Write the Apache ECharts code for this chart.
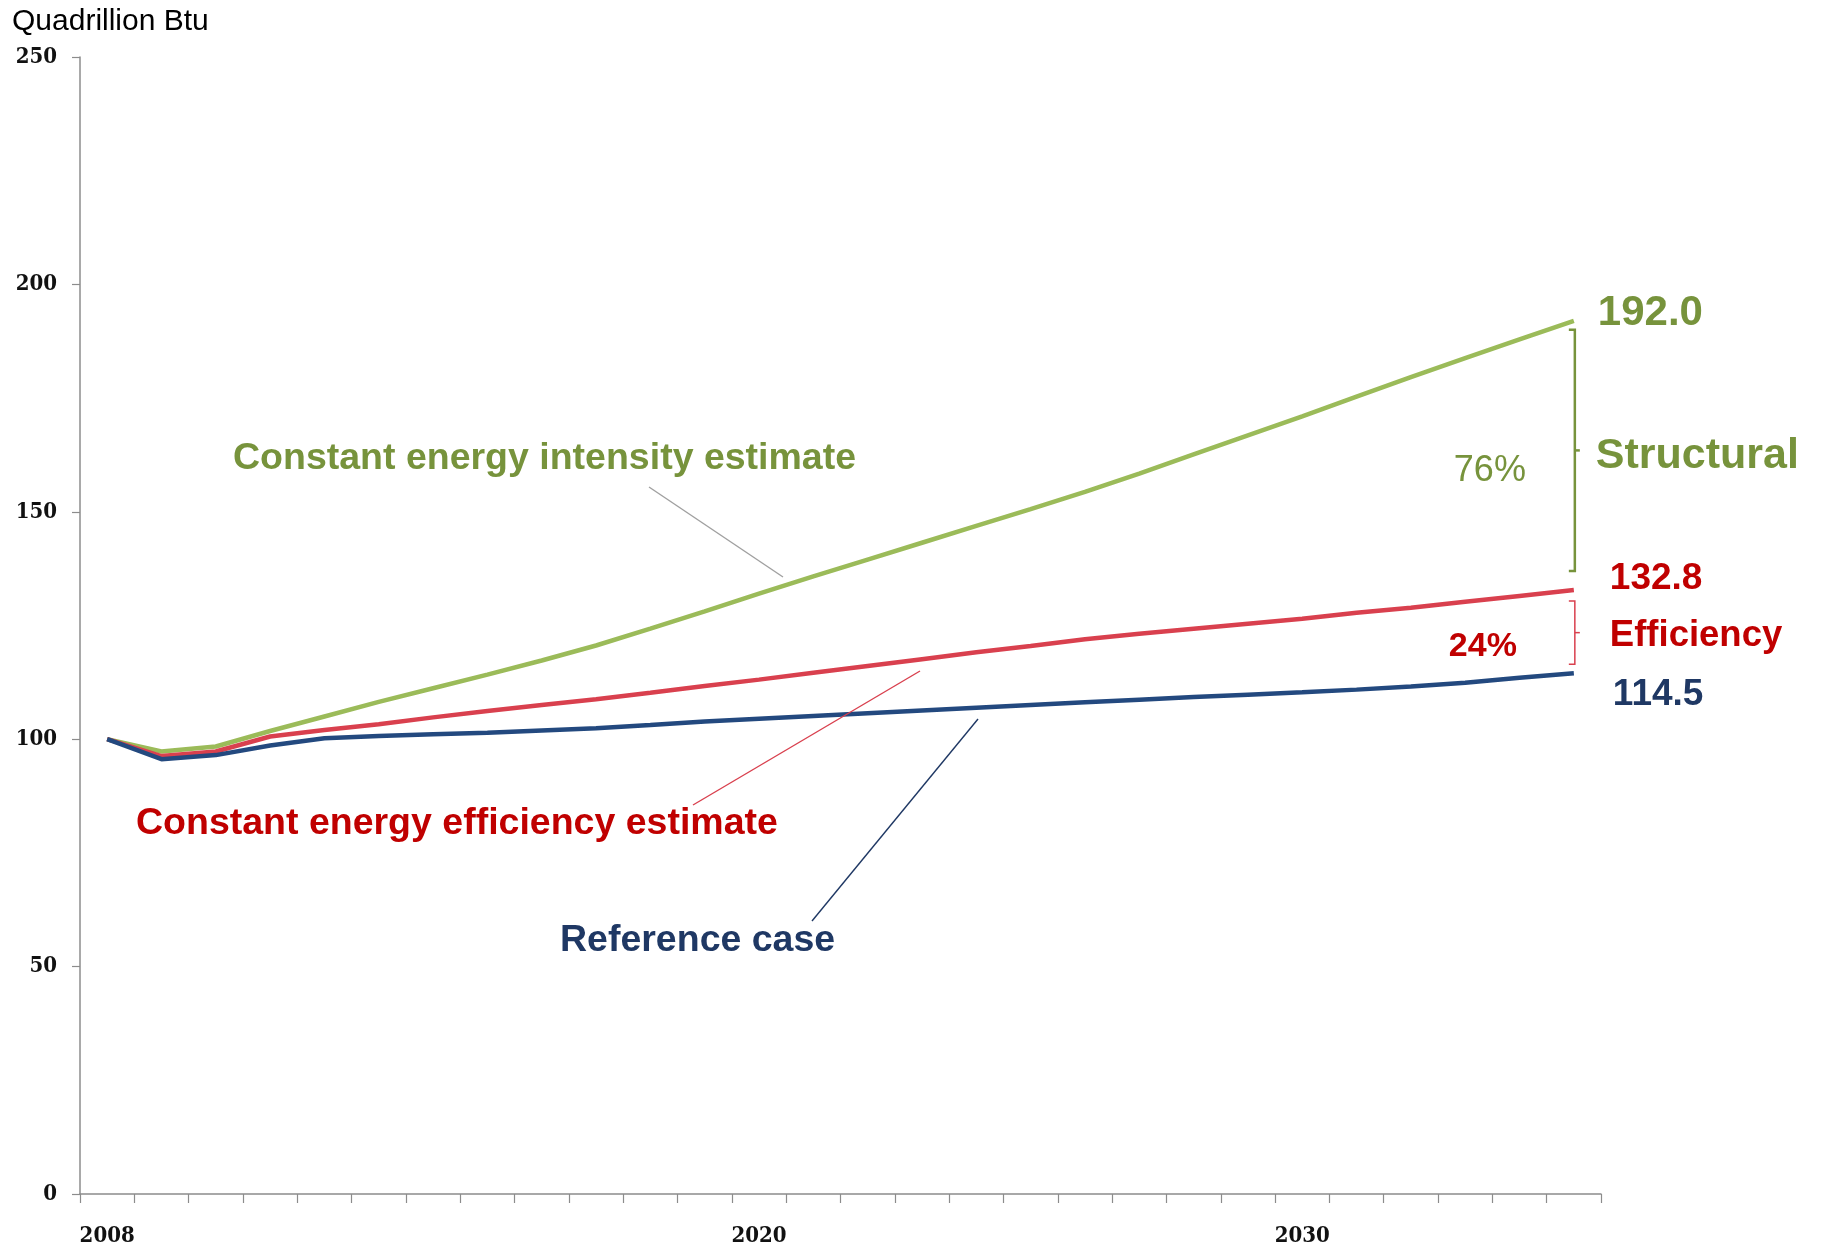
<!DOCTYPE html>
<html>
<head>
<meta charset="utf-8">
<script src="https://cdn.jsdelivr.net/npm/echarts@6/dist/echarts.min.js"></script>
<style>
  html, body { margin: 0; padding: 0; background: #ffffff; }
  #chart { width: 1828px; height: 1248px; }
</style>
</head>
<body>
<div id="chart"></div>
<script>
// Projection years (one category per year)
const years = ['2008','2009','2010','2011','2012','2013','2014','2015','2016','2017',
               '2018','2019','2020','2021','2022','2023','2024','2025','2026','2027',
               '2028','2029','2030','2031','2032','2033','2034','2035'];

// Years that carry a visible axis label
const yearLabels = ['2008', '2020', '2030'];

// Constant energy intensity estimate (quadrillion Btu)
const intensityEstimate = [100.0, 97.3, 98.4, 101.8, 105.0, 108.2, 111.2, 114.2, 117.3, 120.6,
                           124.3, 128.1, 132.0, 135.8, 139.5, 143.2, 146.9, 150.6, 154.4, 158.4,
                           162.6, 166.8, 171.0, 175.3, 179.6, 183.8, 187.9, 192.0];

// Constant energy efficiency estimate (quadrillion Btu)
const efficiencyEstimate = [100.0, 96.3, 97.3, 100.6, 102.0, 103.3, 104.8, 106.2, 107.5, 108.8,
                            110.2, 111.7, 113.1, 114.6, 116.1, 117.6, 119.1, 120.5, 122.0, 123.2,
                            124.3, 125.4, 126.5, 127.8, 128.9, 130.2, 131.5, 132.8];

// Reference case (quadrillion Btu)
const referenceCase = [100.0, 95.6, 96.5, 98.6, 100.2, 100.7, 101.1, 101.4, 101.9, 102.4,
                       103.1, 103.9, 104.5, 105.1, 105.7, 106.3, 106.9, 107.5, 108.1, 108.7,
                       109.3, 109.8, 110.3, 110.9, 111.6, 112.4, 113.5, 114.5];

// Value axis ticks
const yMin = 0, yMax = 250, yStep = 50;

// Shares of the gap between the intensity estimate and the reference case
const structuralShare = '76%';
const efficiencyShare = '24%';

const SANS = "'Liberation Sans', Arial, sans-serif";
const SERIF = "'DejaVu Serif Condensed', 'DejaVu Serif', 'Liberation Serif', serif";

const GREEN_LINE = '#9BBB59', GREEN_TEXT = '#77933C';
const RED_LINE = '#D9404E', RED_TEXT = '#C00000';
const BLUE_LINE = '#23497F', BLUE_TEXT = '#1F3864';

function endLabel(color, size, offset) {
  return {
    show: true,
    formatter: p => Number(p.value).toFixed(1),
    color: color,
    fontFamily: SANS,
    fontWeight: 'bold',
    fontSize: size,
    align: 'left',
    verticalAlign: 'middle',
    distance: 0,
    offset: offset
  };
}

const chart = echarts.init(document.getElementById('chart'), null, { renderer: 'canvas' });

chart.setOption({
  animation: false,
  backgroundColor: '#ffffff',
  grid: { left: 80, right: 227, top: 57, bottom: 54, containLabel: false },
  xAxis: {
    type: 'category',
    data: years,
    boundaryGap: true,
    axisLine: { lineStyle: { color: '#8c8c8c', width: 1.5 } },
    axisTick: { show: true, interval: 0, length: 9, lineStyle: { color: '#8c8c8c', width: 1.2 } },
    axisLabel: {
      interval: 0,
      formatter: v => (yearLabels.includes(v) ? v : ''),
      fontFamily: SERIF,
      fontWeight: 'bold',
      fontSize: 22,
      color: '#111111',
      margin: 31
    },
    splitLine: { show: false }
  },
  yAxis: {
    type: 'value',
    min: yMin,
    max: yMax,
    interval: yStep,
    axisLine: { show: true, lineStyle: { color: '#8c8c8c', width: 1.5 } },
    axisTick: { show: true, length: 8, lineStyle: { color: '#8c8c8c', width: 1.2 } },
    axisLabel: {
      fontFamily: SERIF,
      fontWeight: 'bold',
      fontSize: 22,
      color: '#111111',
      margin: 23
    },
    splitLine: { show: false }
  },
  series: [
    {
      name: 'Constant energy intensity estimate',
      type: 'line',
      data: intensityEstimate,
      symbol: 'none',
      lineStyle: { color: GREEN_LINE, width: 4.5 },
      endLabel: endLabel(GREEN_TEXT, 42, [24, -7]),
      z: 2
    },
    {
      name: 'Constant energy efficiency estimate',
      type: 'line',
      data: efficiencyEstimate,
      symbol: 'none',
      lineStyle: { color: RED_LINE, width: 4.5 },
      endLabel: endLabel(RED_TEXT, 37, [36, -11]),
      z: 3
    },
    {
      name: 'Reference case',
      type: 'line',
      data: referenceCase,
      symbol: 'none',
      lineStyle: { color: BLUE_LINE, width: 4.5 },
      endLabel: endLabel(BLUE_TEXT, 37, [39, 22]),
      z: 4
    }
  ]
});

// Annotation layer: brackets anchored to the 2035 end points, callouts with leaders
const last = years.length - 1;
const toPx = (i, v) => chart.convertToPixel({ gridIndex: 0 }, [i, v]);
const gEnd = toPx(last, intensityEstimate[last]);
const rEnd = toPx(last, efficiencyEstimate[last]);
const bEnd = toPx(last, referenceCase[last]);

function bracket(x, top, bottom, color, width) {
  const mid = (top + bottom) / 2;
  return [
    { type: 'polyline', shape: { points: [[x - 6, top], [x, top], [x, bottom], [x - 6, bottom]] },
      style: { stroke: color, lineWidth: width, fill: null }, z: 10 },
    { type: 'line', shape: { x1: x, y1: mid, x2: x + 5, y2: mid },
      style: { stroke: color, lineWidth: width }, z: 10 }
  ];
}

function text(x, y, str, color, size, weight, align) {
  return {
    type: 'text', x: x, y: y, z: 20,
    style: {
      text: str, fill: color, font: (weight || 'normal') + ' ' + size + 'px ' + SANS,
      textAlign: align || 'left', textVerticalAlign: 'middle'
    }
  };
}

function leader(x1, y1, x2, y2, color) {
  return { type: 'line', z: 9, shape: { x1: x1, y1: y1, x2: x2, y2: y2 },
           style: { stroke: color, lineWidth: 1.4 } };
}

const gTop = gEnd[1] + 9, gBottom = rEnd[1] - 19;
const rTop = rEnd[1] + 11, rBottom = bEnd[1] - 9;
const bx = gEnd[0] + 1;

const elements = [].concat(
  bracket(bx, gTop, gBottom, GREEN_TEXT, 2.5),
  bracket(bx, rTop, rBottom, RED_LINE, 1.5),
  [
    text(bx + 21, (gTop + gBottom) / 2 + 6, 'Structural', GREEN_TEXT, 43, 'bold'),
    text(bx - 121, (gTop + gBottom) / 2 + 21, structuralShare, GREEN_TEXT, 36, 'normal'),
    text(bx + 35, (rTop + rBottom) / 2 + 3, 'Efficiency', RED_TEXT, 36.5, 'bold'),
    text(bx - 126, (rTop + rBottom) / 2 + 14, efficiencyShare, RED_TEXT, 34, 'bold'),

    text(233, 459, 'Constant energy intensity estimate', GREEN_TEXT, 37.5, 'bold'),
    leader(649, 487, 783, 577, '#a0a0a0'),
    text(136, 824, 'Constant energy efficiency estimate', RED_TEXT, 37.5, 'bold'),
    leader(693, 805, 920, 671, RED_LINE),
    text(560, 941, 'Reference case', BLUE_TEXT, 37.5, 'bold'),
    leader(812, 921, 978, 719, BLUE_TEXT),

    text(12, 22, 'Quadrillion Btu', '#000000', 30, 'normal')
  ]
);

chart.setOption({ graphic: { elements: elements } });
</script>
</body>
</html>
